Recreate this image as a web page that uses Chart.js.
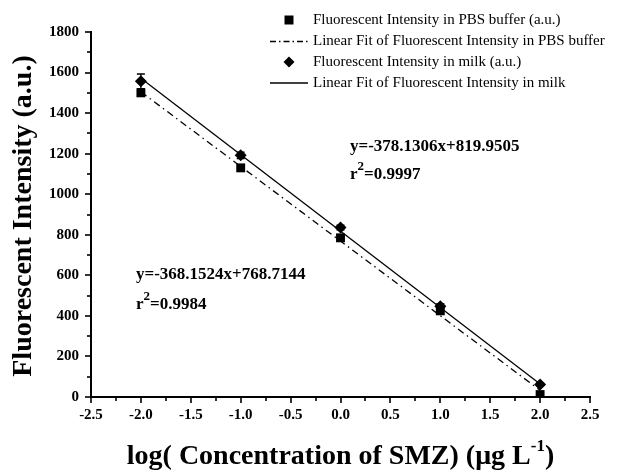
<!DOCTYPE html>
<html>
<head>
<meta charset="utf-8">
<script src="https://cdn.jsdelivr.net/npm/chart.js@4/dist/chart.umd.min.js"></script>
<style>
html,body{margin:0;padding:0;background:#fff;}
#wrap{width:644px;height:471px;position:relative;}
</style>
</head>
<body>
<div id="wrap"><canvas id="c" width="644" height="471"></canvas></div>
<script>
// ---- data ----
const concLog = [-2, -1, 0, 1, 2];
const pbsIntensity = [1500, 1130, 785, 425, 12];
const milkIntensity = [1557, 1192, 836, 448, 62];
const milkError = [36, 16, 12, 12, 8];
const fitX = [-2, 2];
const fitPBS = [1505, 33];
const fitMilk = [1572, 64];
const xTickRange = [-2.5, 2.5, 0.5];
const yTickRange = [0, 1800, 200];
const legendLabels = [
  'Fluorescent Intensity in PBS buffer (a.u.)',
  'Linear Fit of Fluorescent Intensity in PBS buffer',
  'Fluorescent Intensity in milk (a.u.)',
  'Linear Fit of Fluorescent Intensity in milk'
];
const eqMilk = ['y=-378.1306x+819.9505', '0.9997'];
const eqPBS = ['y=-368.1524x+768.7144', '0.9984'];
const yTitle = 'Fluorescent Intensity (a.u.)';
const xTitle = ['log( Concentration of SMZ) (\u03bcg L', '-1', ')'];

const SERIF = '"Liberation Serif", "Times New Roman", serif';
const pts = (xs, ys) => xs.map((x, i) => ({x: x, y: ys[i]}));

const extras = {
  id: 'extras',
  afterDatasetsDraw(chart) {
    const ctx = chart.ctx, xs = chart.scales.x, ys = chart.scales.y;
    ctx.save();
    ctx.strokeStyle = '#000'; ctx.lineWidth = 1.3;
    concLog.forEach((x, i) => {
      const px = xs.getPixelForValue(x);
      const t = ys.getPixelForValue(milkIntensity[i] + milkError[i]);
      const b = ys.getPixelForValue(milkIntensity[i] - milkError[i]);
      ctx.beginPath();
      ctx.moveTo(px, t); ctx.lineTo(px, b);
      ctx.moveTo(px - 4, t); ctx.lineTo(px + 4, t);
      ctx.moveTo(px - 4, b); ctx.lineTo(px + 4, b);
      ctx.stroke();
    });
    ctx.restore();
  },
  afterDraw(chart) {
    const ctx = chart.ctx, xs = chart.scales.x, ys = chart.scales.y;
    const ca = chart.chartArea;
    ctx.save();
    ctx.strokeStyle = '#000'; ctx.fillStyle = '#000';
    ctx.lineWidth = 1.6;
    for (let v = xTickRange[0]; v <= xTickRange[1] + 1e-9; v += xTickRange[2] / 2) {
      const major = Math.abs(Math.round(v / xTickRange[2]) * xTickRange[2] - v) < 1e-6;
      const px = Math.round(xs.getPixelForValue(v));
      ctx.beginPath(); ctx.moveTo(px, ca.bottom); ctx.lineTo(px, ca.bottom + (major ? 6 : 4)); ctx.stroke();
    }
    for (let v = yTickRange[0]; v <= yTickRange[1] + 1e-9; v += yTickRange[2] / 2) {
      const major = (v % yTickRange[2]) === 0;
      const py = Math.round(ys.getPixelForValue(v));
      ctx.beginPath(); ctx.moveTo(ca.left, py); ctx.lineTo(ca.left - (major ? 6 : 4), py); ctx.stroke();
    }
    // legend
    const lx0 = 270, lx1 = 308, mx = 289, tx = 313;
    const rows = [20, 41.5, 62, 83];
    ctx.font = '15px ' + SERIF;
    ctx.textBaseline = 'middle'; ctx.textAlign = 'left';
    legendLabels.forEach((t, i) => ctx.fillText(t, tx, rows[i]));
    ctx.fillRect(mx - 4.5, rows[0] - 4.5, 9, 9);
    ctx.lineWidth = 1.3;
    ctx.setLineDash([6, 3, 1.5, 3]);
    ctx.beginPath(); ctx.moveTo(lx0, rows[1]); ctx.lineTo(lx1, rows[1]); ctx.stroke();
    ctx.setLineDash([]);
    ctx.beginPath();
    ctx.moveTo(mx, rows[2] - 5.5); ctx.lineTo(mx + 5.5, rows[2]); ctx.lineTo(mx, rows[2] + 5.5); ctx.lineTo(mx - 5.5, rows[2]);
    ctx.closePath(); ctx.fill();
    ctx.beginPath(); ctx.moveTo(lx0, rows[3]); ctx.lineTo(lx1, rows[3]); ctx.stroke();

    // equations
    const eq = (lines, x, y1, y2) => {
      ctx.font = 'bold 17px ' + SERIF;
      ctx.textBaseline = 'middle';
      ctx.fillText(lines[0], x, y1);
      ctx.fillText('r', x, y2);
      let w = ctx.measureText('r').width;
      ctx.font = 'bold 13px ' + SERIF;
      ctx.fillText('2', x + w, y2 - 8);
      w += ctx.measureText('2').width;
      ctx.font = 'bold 17px ' + SERIF;
      ctx.fillText('=' + lines[1], x + w, y2);
    };
    eq(eqMilk, 350, 147, 175);
    eq(eqPBS, 136, 275, 305);

    // y title
    ctx.save();
    ctx.translate(24, 216);
    ctx.rotate(-Math.PI / 2);
    ctx.font = 'bold 28px ' + SERIF;
    ctx.textAlign = 'center'; ctx.textBaseline = 'middle';
    ctx.fillText(yTitle, 0, 0);
    ctx.restore();

    // x title with superscript
    ctx.textBaseline = 'alphabetic'; ctx.textAlign = 'left';
    const big = 'bold 28px ' + SERIF, small = 'bold 17px ' + SERIF;
    ctx.font = big; const w1 = ctx.measureText(xTitle[0]).width;
    ctx.font = small; const w2 = ctx.measureText(xTitle[1]).width;
    ctx.font = big; const w3 = ctx.measureText(xTitle[2]).width;
    let sx = (ca.left + ca.right) / 2 - (w1 + w2 + w3) / 2;
    const by = 464;
    ctx.font = big; ctx.fillText(xTitle[0], sx, by); sx += w1;
    ctx.font = small; ctx.fillText(xTitle[1], sx, by - 13); sx += w2;
    ctx.font = big; ctx.fillText(xTitle[2], sx, by);
    ctx.restore();
  }
};

new Chart(document.getElementById('c'), {
  type: 'scatter',
  data: {
    datasets: [
      {label: legendLabels[0], data: pts(concLog, pbsIntensity), pointStyle: 'rect', pointRadius: 6.3,
       backgroundColor: '#000', borderColor: '#000', borderWidth: 0, showLine: false, order: 1},
      {label: legendLabels[1], data: pts(fitX, fitPBS), showLine: true, pointRadius: 0, borderColor: '#000',
       borderWidth: 1.3, borderDash: [7, 4, 1.5, 4], backgroundColor: '#000', order: 3},
      {label: legendLabels[2], data: pts(concLog, milkIntensity), pointStyle: 'rectRot', pointRadius: 6,
       backgroundColor: '#000', borderColor: '#000', borderWidth: 0, showLine: false, order: 0},
      {label: legendLabels[3], data: pts(fitX, fitMilk), showLine: true, pointRadius: 0, borderColor: '#000',
       borderWidth: 1.3, backgroundColor: '#000', order: 2}
    ]
  },
  options: {
    responsive: false,
    animation: false,
    events: [],
    layout: {padding: {left: 0, top: 32, right: 54, bottom: 0}},
    plugins: {legend: {display: false}, tooltip: {enabled: false}},
    scales: {
      x: {
        type: 'linear', min: xTickRange[0], max: xTickRange[1],
        ticks: {stepSize: xTickRange[2], color: '#000', padding: 9,
          font: {family: SERIF, size: 15, weight: 'bold'},
          callback: v => Number(v).toFixed(1), maxRotation: 0, autoSkip: false},
        grid: {drawOnChartArea: false, drawTicks: false},
        border: {display: true, color: '#000', width: 2},
        afterFit: s => { s.height = 74; }
      },
      y: {
        type: 'linear', min: yTickRange[0], max: yTickRange[1],
        ticks: {stepSize: yTickRange[2], color: '#000', padding: 12,
          font: {family: SERIF, size: 15, weight: 'bold'}, autoSkip: false,
          callback: v => String(Math.round(v))},
        grid: {drawOnChartArea: false, drawTicks: false},
        border: {display: true, color: '#000', width: 2},
        afterFit: s => { s.width = 91; }
      }
    }
  },
  plugins: [extras]
});
</script>
</body>
</html>
